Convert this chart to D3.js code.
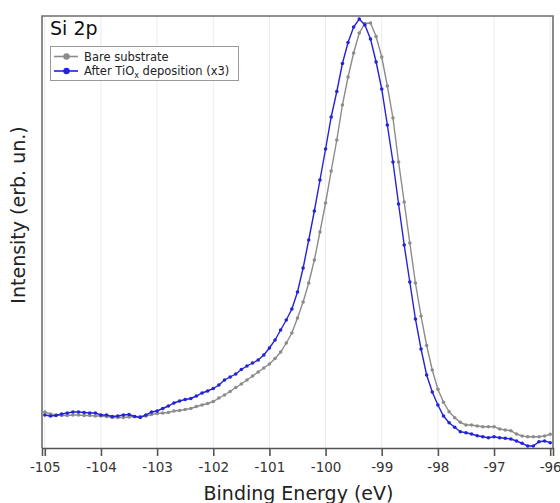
<!DOCTYPE html>
<html>
<head>
<meta charset="utf-8">
<script src="https://cdn.jsdelivr.net/npm/d3@7"></script>
<style>
  html, body { margin: 0; padding: 0; background: #fff; }
  svg { display: block; }
</style>
</head>
<body>
<svg id="chart" width="560" height="503"></svg>
<script>
// ---- Data ----
const energyStart = -105;
const energyStep = 0.1;
const xTicks = [-105, -104, -103, -102, -101, -100, -99, -98, -97, -96];

const bareSubstrate = [
  36, 34, 33, 32.5, 32.5, 33, 33, 32.5, 32.5, 32,
  32, 31.5, 30.5, 30.5, 30.5, 31, 31.5, 31.5, 32, 33.5,
  34.5, 35, 35.5, 37, 37.5, 38.5, 39.5, 41.5, 43, 44.5,
  46.5, 50, 53, 56.5, 60.5, 64, 68, 72, 76, 80,
  84, 89.5, 96, 105, 115, 130, 146, 165, 188, 216,
  245, 277, 308, 343, 371, 395, 415, 424.5, 425, 411.5,
  391, 362, 330, 286, 246, 205, 165, 132, 102.5, 78,
  58.7, 45.7, 36.3, 30.3, 25.7, 23, 23, 22, 21.3, 21.3,
  21.3, 19, 18, 17.3, 14, 12, 11.3, 11.3, 11.3, 12,
  13.7
];

const afterTiOx = [
  33, 32, 32.5, 34, 35, 36, 36, 35.5, 35, 35,
  33, 33, 31.5, 32, 33, 33.5, 31.5, 30.5, 33, 36,
  37, 39.5, 42, 45, 47, 48.5, 49.5, 52, 55, 57,
  59.5, 63, 68, 71, 74, 78.5, 82, 85, 88, 93,
  100, 108, 118, 128, 139, 156, 180, 208, 237, 268,
  299, 331, 356.5, 384.5, 405.5, 421, 429, 423, 409, 386,
  359, 323, 286, 244, 203, 166, 129, 99, 73, 56,
  43, 32, 25.3, 20.7, 16.3, 15.3, 14, 12.3, 11.3, 10.3,
  11.3, 10.3, 9.7, 9, 7, 4.7, 2, 2, 6.3, 7,
  5.3
];

const seriesNames = ["Bare substrate", "After TiOx deposition (x3)"];
const panelTitle = "Si 2p";

// ---- Layout ----
const svg = d3.select("#chart");
const frame = { left: 42, right: 553, top: 16, bottom: 448 };
const font = "'DejaVu Sans', Verdana, sans-serif";

const x = d3.scaleLinear().domain([-105.05, -95.95]).range([frame.left, frame.right]);
const y = d3.scaleLinear().domain([0, 432]).range([frame.bottom, frame.top]);

const toPoints = arr => arr.map((v, i) => ({ e: energyStart + i * energyStep, v }));
const series = [
  { name: seriesNames[0], color: "#8c8c8c", pts: toPoints(bareSubstrate) },
  { name: seriesNames[1], color: "#2323d8", pts: toPoints(afterTiOx) }
];

// gridlines
svg.append("g").selectAll("line").data(xTicks).join("line")
  .attr("x1", d => x(d)).attr("x2", d => x(d))
  .attr("y1", frame.top).attr("y2", frame.bottom)
  .attr("stroke", "#ebebeb").attr("stroke-width", 1);

// clip
svg.append("clipPath").attr("id", "clip").append("rect")
  .attr("x", frame.left).attr("y", frame.top - 4)
  .attr("width", frame.right - frame.left).attr("height", frame.bottom - frame.top + 4);

const line = d3.line().x(d => x(d.e)).y(d => y(d.v));
const plot = svg.append("g").attr("clip-path", "url(#clip)");
series.forEach(s => {
  plot.append("path").datum(s.pts)
    .attr("d", line).attr("fill", "none")
    .attr("stroke", s.color).attr("stroke-width", 1.4);
  plot.append("g").selectAll("circle").data(s.pts).join("circle")
    .attr("cx", d => x(d.e)).attr("cy", d => y(d.v)).attr("r", 1.8)
    .attr("fill", s.color);
});

// frame
svg.append("path")
  .attr("d", `M${frame.left},${frame.bottom}V${frame.top}H${frame.right}V${frame.bottom}`)
  .attr("fill", "none").attr("stroke", "#6e6e6e").attr("stroke-width", 1.6);

// x axis
const xAxis = d3.axisBottom(x).tickValues(xTicks).tickSize(8).tickPadding(6)
  .tickFormat(d => String(d));
const gx = svg.append("g").attr("transform", `translate(0,${frame.bottom})`).call(xAxis);
gx.select(".domain").attr("stroke", "#555").attr("stroke-width", 1.6);
gx.selectAll(".tick line").attr("stroke", "#555").attr("stroke-width", 1.6);
gx.selectAll(".tick text").attr("fill", "#333").attr("font-family", font).attr("font-size", 13.5);

// axis titles
svg.append("text").attr("x", (frame.left + frame.right) / 2 + 1).attr("y", 500)
  .attr("text-anchor", "middle").attr("font-family", font).attr("font-size", 19)
  .attr("fill", "#222").text("Binding Energy (eV)");
svg.append("text")
  .attr("transform", `translate(25,${(frame.top + frame.bottom) / 2 - 17}) rotate(-90)`)
  .attr("text-anchor", "middle").attr("font-family", font).attr("font-size", 19)
  .attr("fill", "#222").text("Intensity (erb. un.)");

// panel title
svg.append("text").attr("x", 50).attr("y", 34.5)
  .attr("font-family", font).attr("font-size", 19).attr("fill", "#111").text(panelTitle);

// legend
const lg = svg.append("g");
lg.append("rect").attr("x", 50.5).attr("y", 46.5).attr("width", 188).attr("height", 34)
  .attr("fill", "#fff").attr("stroke", "#999").attr("stroke-width", 1);
const rows = [56.5, 71];
series.forEach((s, i) => {
  const ry = rows[i];
  lg.append("line").attr("x1", 54).attr("x2", 78).attr("y1", ry).attr("y2", ry)
    .attr("stroke", s.color).attr("stroke-width", 1.6);
  lg.append("circle").attr("cx", 66.5).attr("cy", ry).attr("r", 3.2).attr("fill", s.color);
  const t = lg.append("text").attr("x", 84).attr("y", ry + 4)
    .attr("font-family", font).attr("font-size", 11.5).attr("fill", "#222");
  if (i === 0) {
    t.text(s.name);
  } else {
    t.append("tspan").text("After TiO");
    t.append("tspan").attr("dy", 3).attr("font-size", 8).text("x");
    t.append("tspan").attr("dy", -3).text(" deposition (x3)");
  }
});
</script>
</body>
</html>
